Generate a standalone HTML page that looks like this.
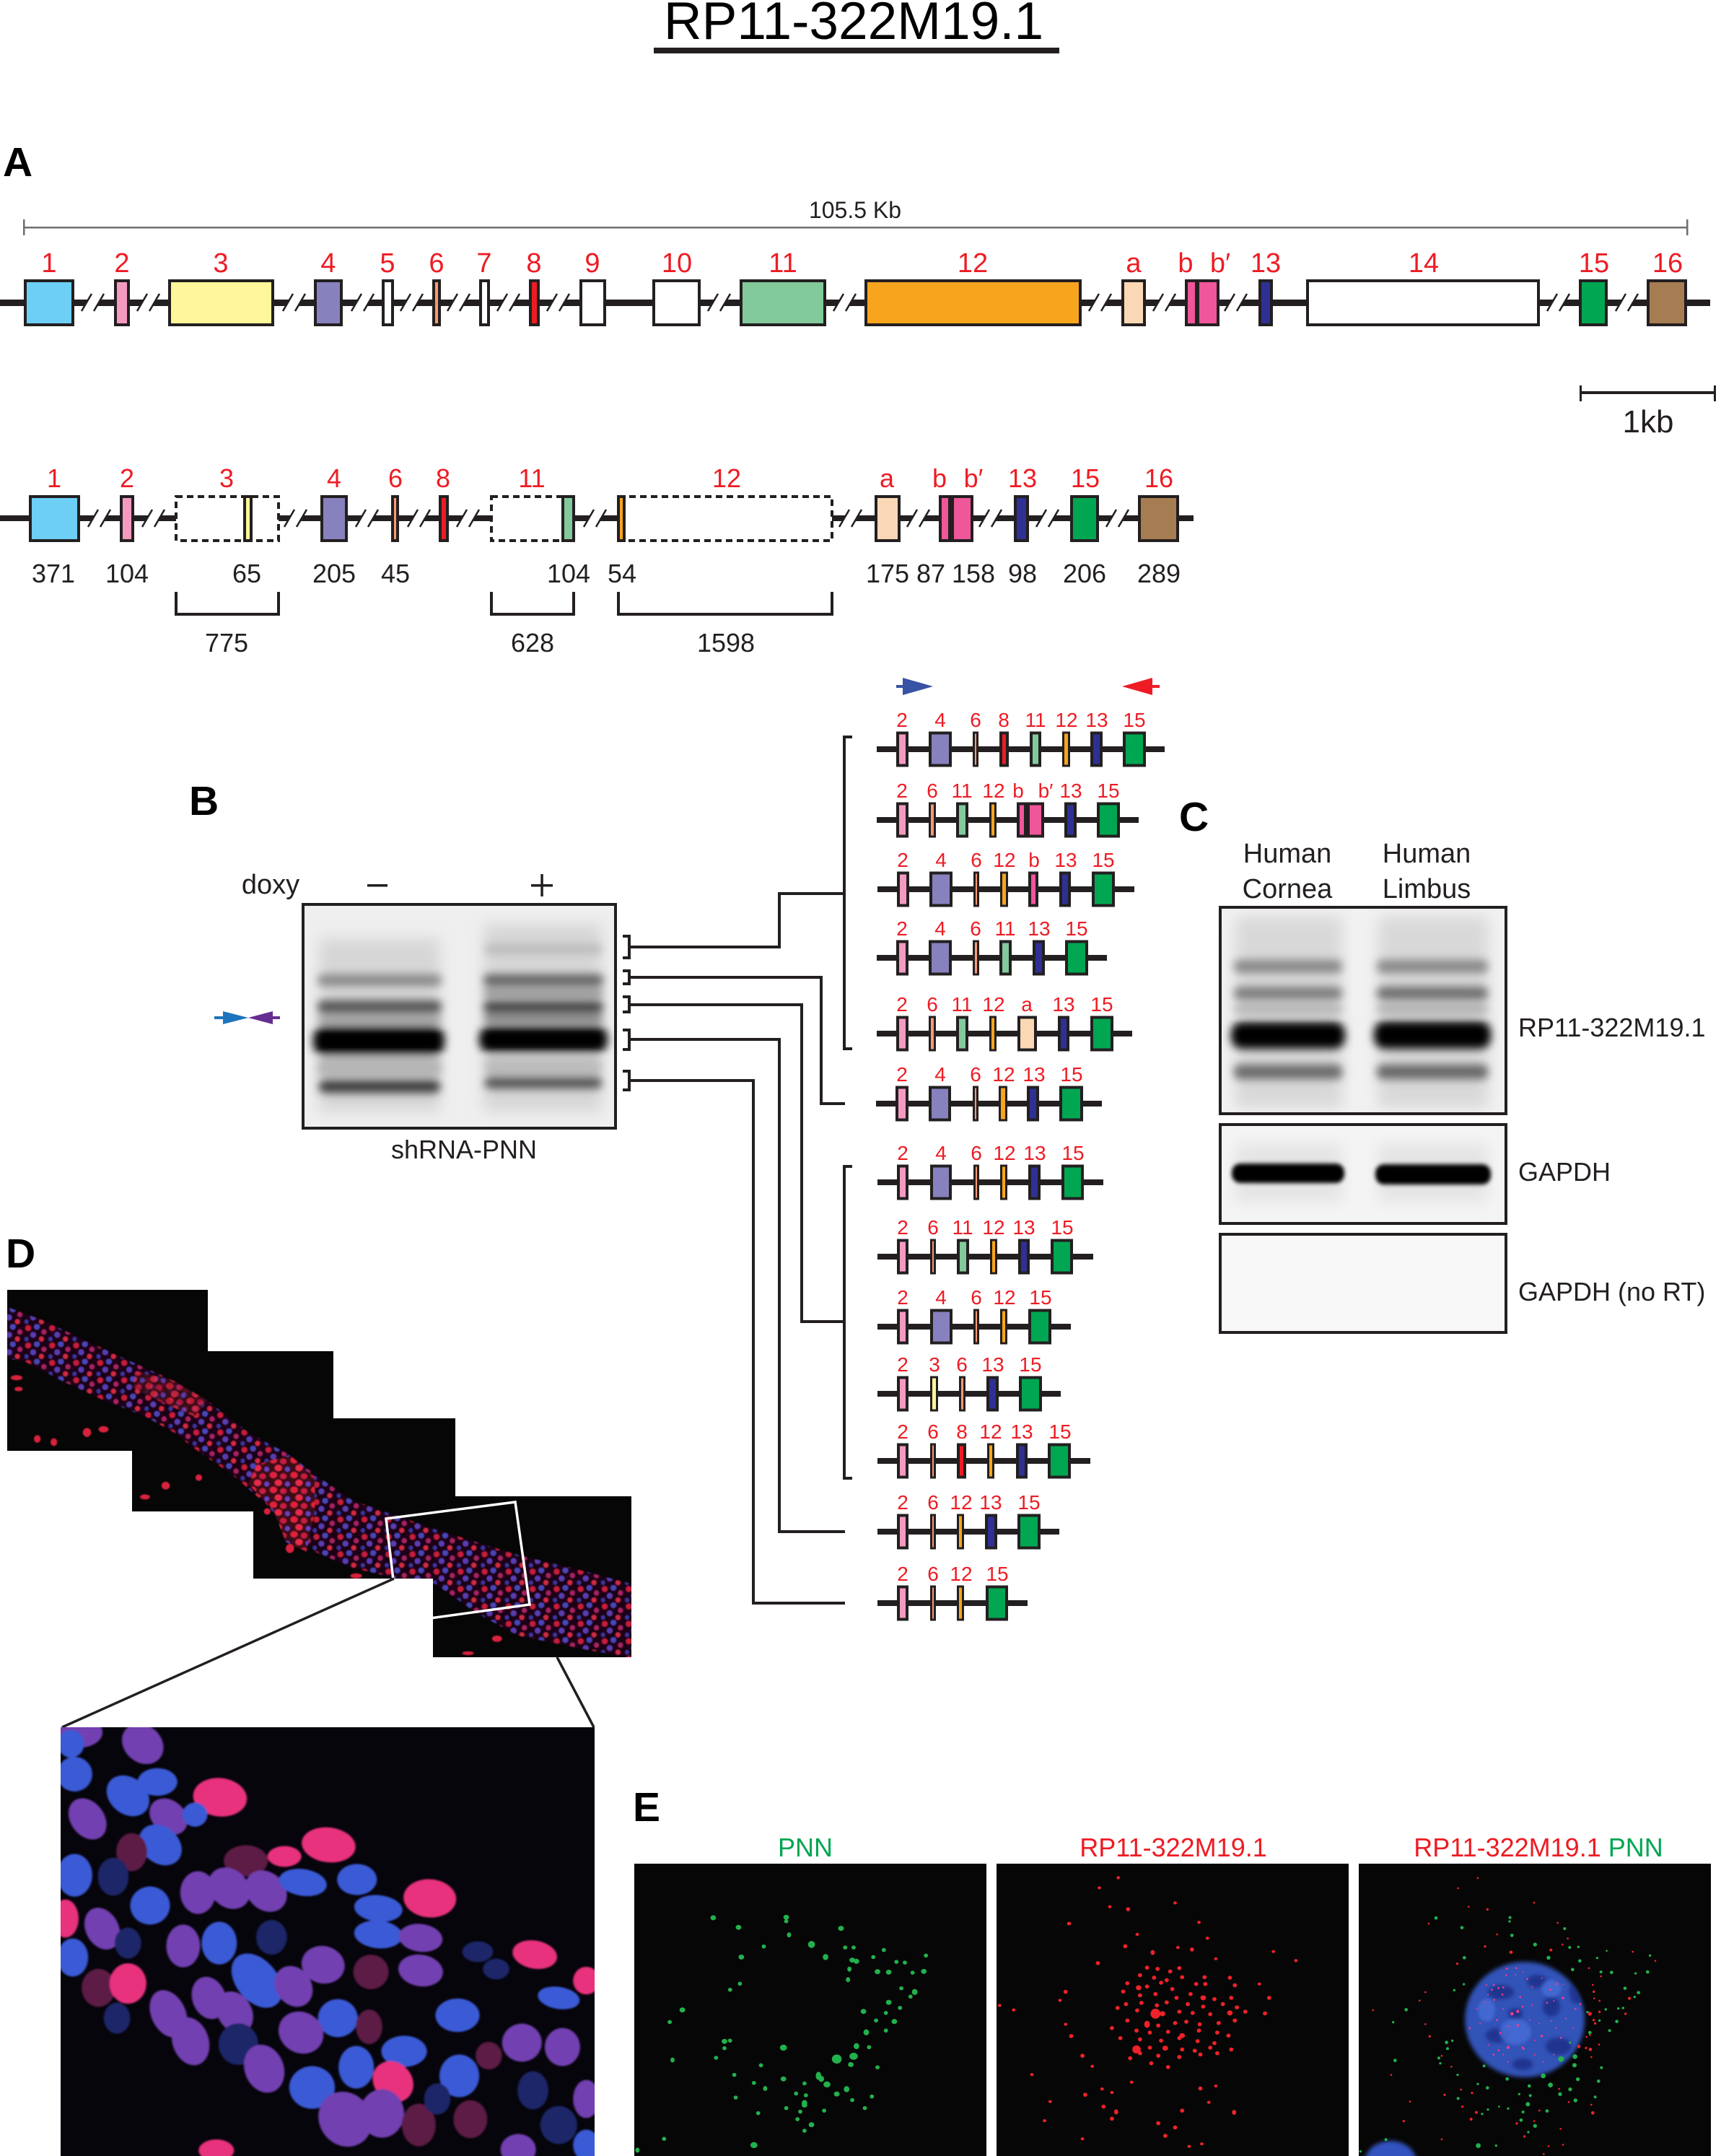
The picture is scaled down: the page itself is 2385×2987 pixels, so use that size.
<!DOCTYPE html>
<html><head><meta charset="utf-8">
<style>
html,body{margin:0;padding:0;background:#fff;}
body{width:2385px;height:2987px;overflow:hidden;}
svg{display:block;}
text{font-family:"Liberation Sans",Arial,sans-serif;}
.r{fill:#ed1c24;text-anchor:middle;}
.k{fill:#231f20;text-anchor:middle;}
.e{stroke:#231f20;stroke-width:4;}
.n{stroke:#231f20;stroke-width:3;}
.cn{fill:none;stroke:#231f20;stroke-width:4;}
.lbl{font-weight:bold;font-size:57px;fill:#000;}
.il{font-size:28px;fill:#ed1c24;text-anchor:middle;}
.gd{fill:#22b14c;}
.rd{fill:#ee2228;}
.pk{fill:#ff3a8c;}
.nB{fill:#3a5ad6;}
.nP{fill:#7240b0;}
.nR{fill:#e8307e;}
.nD{fill:#1a2668;}
.nQ{fill:#5c1a44;}
</style></head>
<body>
<svg width="2385" height="2987" viewBox="0 0 2385 2987" xmlns="http://www.w3.org/2000/svg">
<defs>
<g id="sl">
  <polygon points="0,13 14,-13 31,-13 17,13" fill="#fff"/>
  <line x1="0" y1="12" x2="14" y2="-12" stroke="#231f20" stroke-width="2.5"/>
  <line x1="17" y1="12" x2="31" y2="-12" stroke="#231f20" stroke-width="2.5"/>
</g>
<filter id="b3" x="-20%" y="-50%" width="140%" height="200%"><feGaussianBlur stdDeviation="3"/></filter>
<filter id="b5" x="-20%" y="-100%" width="140%" height="300%"><feGaussianBlur stdDeviation="6"/></filter>
<filter id="b10" x="-30%" y="-30%" width="160%" height="160%"><feGaussianBlur stdDeviation="10"/></filter>
<filter id="bn" x="-30%" y="-30%" width="160%" height="160%"><feGaussianBlur stdDeviation="2.5"/></filter>
<filter id="bt" x="-5%" y="-5%" width="110%" height="110%"><feGaussianBlur stdDeviation="1.5"/></filter>
<clipPath id="gB"><rect x="422" y="1255" width="429" height="306"/></clipPath>
<clipPath id="gC1"><rect x="1693" y="1259" width="392" height="282"/></clipPath>
<clipPath id="gC2"><rect x="1693" y="1560" width="392" height="133"/></clipPath>
<clipPath id="tiles">
  <rect x="10" y="1787" width="278" height="223"/>
  <rect x="183" y="1872" width="279" height="222"/>
  <rect x="351" y="1965" width="280" height="222"/>
  <rect x="600" y="2073" width="275" height="223"/>
</clipPath>
<clipPath id="inset"><rect x="84" y="2393" width="740" height="594"/></clipPath>
<clipPath id="p3"><rect x="1883" y="2582" width="488" height="405"/></clipPath>
<clipPath id="nuc"><ellipse cx="2113" cy="2798" rx="83" ry="80"/></clipPath>
<pattern id="tp" width="58" height="54" patternUnits="userSpaceOnUse">
  <rect width="58" height="54" fill="#1a0612"/>
  <ellipse cx="10" cy="12" rx="7" ry="9" fill="#c81e3c"/>
  <ellipse cx="31" cy="8" rx="7" ry="9" fill="#4c44b8"/>
  <ellipse cx="48" cy="24" rx="6" ry="8" fill="#a82464"/>
  <ellipse cx="22" cy="33" rx="7" ry="9" fill="#5a3cb0"/>
  <ellipse cx="42" cy="46" rx="6" ry="8" fill="#d22a44"/>
  <ellipse cx="6" cy="46" rx="5" ry="7" fill="#3a36a0"/>
</pattern>
<pattern id="tpr" width="50" height="46" patternUnits="userSpaceOnUse">
  <rect width="50" height="46" fill="#3a0a18"/>
  <ellipse cx="10" cy="10" rx="9" ry="10" fill="#e0203c"/>
  <ellipse cx="34" cy="14" rx="8" ry="9" fill="#c81a40"/>
  <ellipse cx="22" cy="34" rx="9" ry="10" fill="#e82a48"/>
  <ellipse cx="44" cy="38" rx="6" ry="8" fill="#6a40c0"/>
</pattern>
</defs>

<!-- Title -->
<text x="1183" y="54" font-size="73" text-anchor="middle" fill="#000">RP11-322M19.1</text>
<rect x="906" y="66" width="562" height="8" fill="#231f20"/>

<!-- A -->
<text class="lbl" x="4" y="244">A</text>
<text x="1185" y="302" font-size="32" class="k">105.5 Kb</text>
<rect x="33" y="314" width="2305" height="2.5" fill="#6d6e71"/>
<rect x="32" y="304" width="2.5" height="22" fill="#6d6e71"/>
<rect x="2337" y="304" width="2.5" height="22" fill="#6d6e71"/>

<!-- Row 1 -->
<rect x="0" y="415" width="2370" height="9" fill="#231f20"/>
<use href="#sl" x="113" y="419"/><use href="#sl" x="190" y="419"/><use href="#sl" x="392" y="419"/>
<use href="#sl" x="487" y="419"/><use href="#sl" x="555" y="419"/><use href="#sl" x="620" y="419"/>
<use href="#sl" x="689" y="419"/><use href="#sl" x="758" y="419"/><use href="#sl" x="981" y="419"/>
<use href="#sl" x="1155" y="419"/><use href="#sl" x="1509" y="419"/><use href="#sl" x="1598" y="419"/>
<use href="#sl" x="1697" y="419"/><use href="#sl" x="2144" y="419"/><use href="#sl" x="2239" y="419"/>
<g>
<rect class="e" x="35" y="389" width="66" height="61" fill="#6dcff6"/>
<rect class="e" x="160" y="389" width="18" height="61" fill="#f49ac1"/>
<rect class="e" x="235" y="389" width="143" height="61" fill="#fff799"/>
<rect class="e" x="437" y="389" width="36" height="61" fill="#8781bd"/>
<rect class="e" x="531" y="389" width="13" height="61" fill="#fff"/>
<rect class="e" x="601" y="389" width="8" height="61" fill="#f79a75"/>
<rect class="e" x="666" y="389" width="11" height="61" fill="#fff"/>
<rect class="e" x="735" y="389" width="11" height="61" fill="#ed1c24"/>
<rect class="e" x="805" y="389" width="33" height="61" fill="#fff"/>
<rect class="e" x="906" y="389" width="63" height="61" fill="#fff"/>
<rect class="e" x="1027" y="389" width="116" height="61" fill="#82ca9b"/>
<rect class="e" x="1200" y="389" width="297" height="61" fill="#f7a51d"/>
<rect class="e" x="1556" y="389" width="30" height="61" fill="#fbd8b5"/>
<rect class="e" x="1644" y="389" width="14" height="61" fill="#f0569a"/>
<rect class="e" x="1660" y="389" width="28" height="61" fill="#f0569a"/>
<rect class="e" x="1746" y="389" width="16" height="61" fill="#2e3192"/>
<rect class="e" x="1812" y="389" width="320" height="61" fill="#fff"/>
<rect class="e" x="2190" y="389" width="36" height="61" fill="#00a651"/>
<rect class="e" x="2284" y="389" width="52" height="61" fill="#a67c52"/>
</g>
<g font-size="38" class="r">
<text x="68" y="377" class="r">1</text><text x="169" y="377" class="r">2</text><text x="306" y="377" class="r">3</text>
<text x="455" y="377" class="r">4</text><text x="537" y="377" class="r">5</text><text x="605" y="377" class="r">6</text>
<text x="671" y="377" class="r">7</text><text x="740" y="377" class="r">8</text><text x="821" y="377" class="r">9</text>
<text x="938" y="377" class="r">10</text><text x="1085" y="377" class="r">11</text><text x="1348" y="377" class="r">12</text>
<text x="1571" y="377" class="r">a</text><text x="1643" y="377" class="r">b</text><text x="1691" y="377" class="r">b′</text>
<text x="1754" y="377" class="r">13</text><text x="1973" y="377" class="r">14</text><text x="2209" y="377" class="r">15</text>
<text x="2311" y="377" class="r">16</text>
</g>
<!-- 1kb -->
<rect x="2190" y="542" width="187" height="4" fill="#231f20"/>
<rect x="2189" y="534" width="3" height="22" fill="#231f20"/>
<rect x="2375" y="534" width="3" height="22" fill="#231f20"/>
<text x="2284" y="599" font-size="44" class="k">1kb</text>

<!-- Row 2 -->
<rect x="0" y="714" width="244" height="8" fill="#231f20"/>
<rect x="386" y="714" width="295" height="8" fill="#231f20"/>
<rect x="795" y="714" width="62" height="8" fill="#231f20"/>
<rect x="1153" y="714" width="501" height="8" fill="#231f20"/>
<use href="#sl" x="122" y="718"/><use href="#sl" x="197" y="718"/><use href="#sl" x="394" y="718"/>
<use href="#sl" x="493" y="718"/><use href="#sl" x="565" y="718"/><use href="#sl" x="633" y="718"/>
<use href="#sl" x="809" y="718"/><use href="#sl" x="1163" y="718"/><use href="#sl" x="1257" y="718"/>
<use href="#sl" x="1357" y="718"/><use href="#sl" x="1436" y="718"/><use href="#sl" x="1533" y="718"/>
<g fill="none" stroke="#231f20" stroke-width="4" stroke-dasharray="9 6">
<rect x="244" y="688" width="142" height="61"/>
<rect x="681" y="688" width="114" height="61"/>
<rect x="857" y="688" width="296" height="61"/>
</g>
<g>
<rect class="e" x="42" y="688" width="67" height="61" fill="#6dcff6"/>
<rect class="e" x="168" y="688" width="16" height="61" fill="#f49ac1"/>
<rect class="e" x="339" y="688" width="9" height="61" fill="#fff799"/>
<rect class="e" x="446" y="688" width="34" height="61" fill="#8781bd"/>
<rect class="e" x="544" y="688" width="7" height="61" fill="#f79a75"/>
<rect class="e" x="610" y="688" width="10" height="61" fill="#ed1c24"/>
<rect class="e" x="780" y="688" width="15" height="61" fill="#82ca9b"/>
<rect class="e" x="857" y="688" width="8" height="61" fill="#f7a51d"/>
<rect class="e" x="1214" y="688" width="32" height="61" fill="#fbd8b5"/>
<rect class="e" x="1303" y="688" width="13" height="61" fill="#f0569a"/>
<rect class="e" x="1320" y="688" width="27" height="61" fill="#f0569a"/>
<rect class="e" x="1407" y="688" width="17" height="61" fill="#2e3192"/>
<rect class="e" x="1485" y="688" width="36" height="61" fill="#00a651"/>
<rect class="e" x="1579" y="688" width="53" height="61" fill="#a67c52"/>
</g>
<g font-size="36">
<text x="75" y="675" class="r">1</text><text x="176" y="675" class="r">2</text><text x="314" y="675" class="r">3</text>
<text x="463" y="675" class="r">4</text><text x="548" y="675" class="r">6</text><text x="614" y="675" class="r">8</text>
<text x="737" y="675" class="r">11</text><text x="1007" y="675" class="r">12</text><text x="1229" y="675" class="r">a</text>
<text x="1302" y="675" class="r">b</text><text x="1349" y="675" class="r">b′</text><text x="1417" y="675" class="r">13</text>
<text x="1504" y="675" class="r">15</text><text x="1606" y="675" class="r">16</text>
<text x="74" y="807" class="k">371</text><text x="176" y="807" class="k">104</text><text x="342" y="807" class="k">65</text>
<text x="463" y="807" class="k">205</text><text x="548" y="807" class="k">45</text><text x="788" y="807" class="k">104</text>
<text x="862" y="807" class="k">54</text><text x="1230" y="807" class="k">175</text><text x="1290" y="807" class="k">87</text>
<text x="1349" y="807" class="k">158</text><text x="1417" y="807" class="k">98</text><text x="1503" y="807" class="k">206</text>
<text x="1606" y="807" class="k">289</text>
<text x="314" y="903" class="k">775</text><text x="738" y="903" class="k">628</text><text x="1006" y="903" class="k">1598</text>
</g>
<path class="cn" d="M244,820 V851 H386 V820"/>
<path class="cn" d="M681,820 V851 H795 V820"/>
<path class="cn" d="M857,820 V851 H1153 V820"/>

<!-- B -->
<text class="lbl" x="262" y="1129">B</text>
<text x="375" y="1238" font-size="38" class="k">doxy</text>
<rect x="509" y="1225" width="28" height="3.5" fill="#231f20"/>
<rect x="736" y="1225" width="30" height="3.5" fill="#231f20"/>
<rect x="749.3" y="1211" width="3.5" height="31" fill="#231f20"/>
<rect x="420" y="1253" width="433" height="310" fill="#efefef"/>
<g clip-path="url(#gB)">
  <rect x="442" y="1300" width="168" height="240" fill="#d2d2d2" filter="url(#b10)" opacity="0.85"/>
  <rect x="670" y="1280" width="164" height="260" fill="#d2d2d2" filter="url(#b10)" opacity="0.85"/>
  <g filter="url(#b5)">
  <rect x="440" y="1350" width="172" height="16" rx="8" fill="#888"/>
  <rect x="440" y="1386" width="172" height="18" rx="8" fill="#555"/>
  <rect x="440" y="1408" width="172" height="10" rx="5" fill="#999"/>
  <rect x="434" y="1422" width="182" height="40" rx="16" fill="#000"/>
  <rect x="440" y="1466" width="172" height="26" rx="10" fill="#b5b5b5"/>
  <rect x="442" y="1496" width="168" height="18" rx="8" fill="#3a3a3a"/>
  <rect x="672" y="1308" width="162" height="14" rx="6" fill="#bcbcbc"/>
  <rect x="670" y="1350" width="166" height="16" rx="7" fill="#606060"/>
  <rect x="670" y="1371" width="166" height="10" rx="5" fill="#8a8a8a"/>
  <rect x="670" y="1387" width="166" height="16" rx="7" fill="#404040"/>
  <rect x="670" y="1406" width="166" height="10" rx="5" fill="#777"/>
  <rect x="664" y="1422" width="178" height="36" rx="15" fill="#000"/>
  <rect x="672" y="1466" width="162" height="24" rx="10" fill="#bcbcbc"/>
  <rect x="672" y="1492" width="162" height="16" rx="7" fill="#505050"/>
  </g>
</g>
<rect x="420" y="1253" width="433" height="310" fill="none" stroke="#231f20" stroke-width="4"/>
<text x="643" y="1605" font-size="36" class="k">shRNA-PNN</text>
<rect x="297" y="1408" width="14" height="4" fill="#1c75bc"/>
<polygon points="309,1401 344,1410 309,1419" fill="#1c75bc"/>
<polygon points="344,1410 378,1401 378,1419" fill="#662d91"/>
<rect x="376" y="1408" width="12" height="4" fill="#662d91"/>
<g class="cn">
<path d="M863,1297 H872 V1327 H863"/>
<path d="M863,1345 H872 V1363 H863"/>
<path d="M863,1381 H872 V1402 H863"/>
<path d="M863,1427 H872 V1454 H863"/>
<path d="M863,1484 H872 V1510 H863"/>
<path d="M872,1312 H1080 V1238 H1170"/>
<path d="M872,1354 H1138 V1529 H1171"/>
<path d="M872,1392 H1111 V1831 H1170"/>
<path d="M872,1440 H1080 V2122 H1171"/>
<path d="M872,1497 H1044 V2221 H1171"/>
<path d="M1181,1021 H1170 V1453 H1181"/>
<path d="M1181,1616 H1170 V2048 H1181"/>
</g>

<!-- primer arrows -->
<rect x="1242" y="949" width="12" height="4" fill="#3953a4"/>
<polygon points="1251,939 1293,951 1251,963" fill="#3953a4"/>
<polygon points="1555,951 1597,939 1597,963" fill="#ed1c24"/>
<rect x="1595" y="949" width="12" height="4" fill="#ed1c24"/>

<!-- Isoforms -->
<g>
<rect x="1215" y="1034" width="399" height="8" fill="#231f20"/>
<rect class="e" x="1244" y="1015.5" width="13" height="45" fill="#f49ac1"/>
<rect class="e" x="1289" y="1015.5" width="28" height="45" fill="#8781bd"/>
<rect class="n" x="1349.5" y="1015" width="5" height="46" fill="#f79a75"/>
<rect class="e" x="1387" y="1015.5" width="9" height="45" fill="#ed1c24"/>
<rect class="e" x="1429" y="1015.5" width="12" height="45" fill="#82ca9b"/>
<rect class="n" x="1473.5" y="1015" width="8" height="46" fill="#f7a51d"/>
<rect class="e" x="1513" y="1015.5" width="13" height="45" fill="#2e3192"/>
<rect class="e" x="1558" y="1015.5" width="28" height="45" fill="#00a651"/>
<text class="il" x="1250" y="1007">2</text><text class="il" x="1303" y="1007">4</text><text class="il" x="1352" y="1007">6</text>
<text class="il" x="1391" y="1007">8</text><text class="il" x="1435" y="1007">11</text><text class="il" x="1478" y="1007">12</text>
<text class="il" x="1520" y="1007">13</text><text class="il" x="1572" y="1007">15</text>

<rect x="1215" y="1132" width="363" height="8" fill="#231f20"/>
<rect class="e" x="1244" y="1113.5" width="13" height="45" fill="#f49ac1"/>
<rect class="n" x="1288.5" y="1113" width="7" height="46" fill="#f79a75"/>
<rect class="e" x="1327" y="1113.5" width="13" height="45" fill="#82ca9b"/>
<rect class="n" x="1372.5" y="1113" width="7" height="46" fill="#f7a51d"/>
<rect class="e" x="1411" y="1113.5" width="10" height="45" fill="#f0569a"/>
<rect class="e" x="1425" y="1113.5" width="20" height="45" fill="#f0569a"/>
<rect class="e" x="1477" y="1113.5" width="13" height="45" fill="#2e3192"/>
<rect class="e" x="1522" y="1113.5" width="28" height="45" fill="#00a651"/>
<text class="il" x="1250" y="1105">2</text><text class="il" x="1292" y="1105">6</text><text class="il" x="1333" y="1105">11</text>
<text class="il" x="1377" y="1105">12</text><text class="il" x="1411" y="1105">b</text><text class="il" x="1449" y="1105">b′</text>
<text class="il" x="1484" y="1105">13</text><text class="il" x="1536" y="1105">15</text>

<rect x="1216" y="1228" width="356" height="8" fill="#231f20"/>
<rect class="e" x="1245" y="1209.5" width="13" height="45" fill="#f49ac1"/>
<rect class="e" x="1290" y="1209.5" width="28" height="45" fill="#8781bd"/>
<rect class="n" x="1350.5" y="1209" width="5" height="46" fill="#f79a75"/>
<rect class="n" x="1387.5" y="1209" width="8" height="46" fill="#f7a51d"/>
<rect class="e" x="1427" y="1209.5" width="10" height="45" fill="#f0569a"/>
<rect class="e" x="1470" y="1209.5" width="12" height="45" fill="#2e3192"/>
<rect class="e" x="1515" y="1209.5" width="28" height="45" fill="#00a651"/>
<text class="il" x="1251" y="1201">2</text><text class="il" x="1304" y="1201">4</text><text class="il" x="1353" y="1201">6</text>
<text class="il" x="1392" y="1201">12</text><text class="il" x="1433" y="1201">b</text><text class="il" x="1477" y="1201">13</text>
<text class="il" x="1529" y="1201">15</text>

<rect x="1215" y="1323" width="319" height="8" fill="#231f20"/>
<rect class="e" x="1244" y="1304.5" width="13" height="45" fill="#f49ac1"/>
<rect class="e" x="1289" y="1304.5" width="28" height="45" fill="#8781bd"/>
<rect class="n" x="1349.5" y="1304" width="6" height="46" fill="#f79a75"/>
<rect class="e" x="1387" y="1304.5" width="13" height="45" fill="#82ca9b"/>
<rect class="e" x="1433" y="1304.5" width="13" height="45" fill="#2e3192"/>
<rect class="e" x="1478" y="1304.5" width="28" height="45" fill="#00a651"/>
<text class="il" x="1250" y="1296">2</text><text class="il" x="1303" y="1296">4</text><text class="il" x="1352" y="1296">6</text>
<text class="il" x="1393" y="1296">11</text><text class="il" x="1440" y="1296">13</text><text class="il" x="1492" y="1296">15</text>

<rect x="1215" y="1428" width="354" height="8" fill="#231f20"/>
<rect class="e" x="1244" y="1409.5" width="13" height="45" fill="#f49ac1"/>
<rect class="n" x="1288.5" y="1409" width="7" height="46" fill="#f79a75"/>
<rect class="e" x="1327" y="1409.5" width="13" height="45" fill="#82ca9b"/>
<rect class="n" x="1372.5" y="1409" width="7" height="46" fill="#f7a51d"/>
<rect class="e" x="1412" y="1409.5" width="23" height="45" fill="#fbd8b5"/>
<rect class="e" x="1468" y="1409.5" width="12" height="45" fill="#2e3192"/>
<rect class="e" x="1513" y="1409.5" width="28" height="45" fill="#00a651"/>
<text class="il" x="1250" y="1401">2</text><text class="il" x="1292" y="1401">6</text><text class="il" x="1333" y="1401">11</text>
<text class="il" x="1377" y="1401">12</text><text class="il" x="1423" y="1401">a</text><text class="il" x="1474" y="1401">13</text>
<text class="il" x="1527" y="1401">15</text>

<rect x="1214" y="1525" width="313" height="8" fill="#231f20"/>
<rect class="e" x="1243" y="1506.5" width="14" height="45" fill="#f49ac1"/>
<rect class="e" x="1289" y="1506.5" width="27" height="45" fill="#8781bd"/>
<rect class="n" x="1349.5" y="1506" width="5" height="46" fill="#f79a75"/>
<rect class="n" x="1385.5" y="1506" width="9" height="46" fill="#f7a51d"/>
<rect class="e" x="1425" y="1506.5" width="13" height="45" fill="#2e3192"/>
<rect class="e" x="1470" y="1506.5" width="29" height="45" fill="#00a651"/>
<text class="il" x="1250" y="1498">2</text><text class="il" x="1303" y="1498">4</text><text class="il" x="1352" y="1498">6</text>
<text class="il" x="1391" y="1498">12</text><text class="il" x="1433" y="1498">13</text><text class="il" x="1485" y="1498">15</text>

<rect x="1216" y="1634" width="313" height="8" fill="#231f20"/>
<rect class="e" x="1245" y="1615.5" width="12" height="45" fill="#f49ac1"/>
<rect class="e" x="1291" y="1615.5" width="26" height="45" fill="#8781bd"/>
<rect class="n" x="1350.5" y="1615" width="5" height="46" fill="#f79a75"/>
<rect class="n" x="1387.5" y="1615" width="7" height="46" fill="#f7a51d"/>
<rect class="e" x="1427" y="1615.5" width="13" height="45" fill="#2e3192"/>
<rect class="e" x="1473" y="1615.5" width="27" height="45" fill="#00a651"/>
<text class="il" x="1251" y="1607">2</text><text class="il" x="1304" y="1607">4</text><text class="il" x="1353" y="1607">6</text>
<text class="il" x="1392" y="1607">12</text><text class="il" x="1434" y="1607">13</text><text class="il" x="1487" y="1607">15</text>

<rect x="1216" y="1737" width="299" height="8" fill="#231f20"/>
<rect class="e" x="1245" y="1718.5" width="12" height="45" fill="#f49ac1"/>
<rect class="n" x="1290.5" y="1718" width="5" height="46" fill="#f79a75"/>
<rect class="e" x="1328" y="1718.5" width="13" height="45" fill="#82ca9b"/>
<rect class="n" x="1373.5" y="1718" width="7" height="46" fill="#f7a51d"/>
<rect class="e" x="1413" y="1718.5" width="12" height="45" fill="#2e3192"/>
<rect class="e" x="1458" y="1718.5" width="27" height="45" fill="#00a651"/>
<text class="il" x="1251" y="1710">2</text><text class="il" x="1293" y="1710">6</text><text class="il" x="1334" y="1710">11</text>
<text class="il" x="1377" y="1710">12</text><text class="il" x="1419" y="1710">13</text><text class="il" x="1472" y="1710">15</text>

<rect x="1216" y="1834" width="268" height="8" fill="#231f20"/>
<rect class="e" x="1245" y="1815.5" width="12" height="45" fill="#f49ac1"/>
<rect class="e" x="1291" y="1815.5" width="27" height="45" fill="#8781bd"/>
<rect class="n" x="1350.5" y="1815" width="5" height="46" fill="#f79a75"/>
<rect class="n" x="1387.5" y="1815" width="7" height="46" fill="#f7a51d"/>
<rect class="e" x="1427" y="1815.5" width="28" height="45" fill="#00a651"/>
<text class="il" x="1251" y="1807">2</text><text class="il" x="1304" y="1807">4</text><text class="il" x="1353" y="1807">6</text>
<text class="il" x="1392" y="1807">12</text><text class="il" x="1442" y="1807">15</text>

<rect x="1216" y="1927" width="254" height="8" fill="#231f20"/>
<rect class="e" x="1245" y="1908.5" width="12" height="45" fill="#f49ac1"/>
<rect class="n" x="1290.5" y="1908" width="8" height="46" fill="#fff799"/>
<rect class="n" x="1330.5" y="1908" width="6" height="46" fill="#f79a75"/>
<rect class="e" x="1369" y="1908.5" width="13" height="45" fill="#2e3192"/>
<rect class="e" x="1414" y="1908.5" width="28" height="45" fill="#00a651"/>
<text class="il" x="1251" y="1900">2</text><text class="il" x="1295" y="1900">3</text><text class="il" x="1333" y="1900">6</text>
<text class="il" x="1376" y="1900">13</text><text class="il" x="1428" y="1900">15</text>

<rect x="1216" y="2020" width="295" height="8" fill="#231f20"/>
<rect class="e" x="1245" y="2001.5" width="12" height="45" fill="#f49ac1"/>
<rect class="n" x="1290.5" y="2001" width="5" height="46" fill="#f79a75"/>
<rect class="e" x="1328" y="2001.5" width="9" height="45" fill="#ed1c24"/>
<rect class="n" x="1369.5" y="2001" width="7" height="46" fill="#f7a51d"/>
<rect class="e" x="1410" y="2001.5" width="12" height="45" fill="#2e3192"/>
<rect class="e" x="1454" y="2001.5" width="28" height="45" fill="#00a651"/>
<text class="il" x="1251" y="1993">2</text><text class="il" x="1293" y="1993">6</text><text class="il" x="1333" y="1993">8</text>
<text class="il" x="1373" y="1993">12</text><text class="il" x="1416" y="1993">13</text><text class="il" x="1469" y="1993">15</text>

<rect x="1216" y="2118" width="252" height="8" fill="#231f20"/>
<rect class="e" x="1245" y="2099.5" width="12" height="45" fill="#f49ac1"/>
<rect class="n" x="1290.5" y="2099" width="5" height="46" fill="#f79a75"/>
<rect class="n" x="1327.5" y="2099" width="7" height="46" fill="#f7a51d"/>
<rect class="e" x="1367" y="2099.5" width="13" height="45" fill="#2e3192"/>
<rect class="e" x="1412" y="2099.5" width="28" height="45" fill="#00a651"/>
<text class="il" x="1251" y="2091">2</text><text class="il" x="1293" y="2091">6</text><text class="il" x="1332" y="2091">12</text>
<text class="il" x="1373" y="2091">13</text><text class="il" x="1426" y="2091">15</text>

<rect x="1216" y="2217" width="208" height="8" fill="#231f20"/>
<rect class="e" x="1245" y="2198.5" width="12" height="45" fill="#f49ac1"/>
<rect class="n" x="1290.5" y="2198" width="5" height="46" fill="#f79a75"/>
<rect class="n" x="1327.5" y="2198" width="7" height="46" fill="#f7a51d"/>
<rect class="e" x="1368" y="2198.5" width="27" height="45" fill="#00a651"/>
<text class="il" x="1251" y="2190">2</text><text class="il" x="1293" y="2190">6</text><text class="il" x="1332" y="2190">12</text>
<text class="il" x="1382" y="2190">15</text>
</g>

<!-- C -->
<text class="lbl" x="1634" y="1151">C</text>
<g font-size="38">
<text x="1784" y="1195" class="k">Human</text><text x="1784" y="1244" class="k">Cornea</text>
<text x="1977" y="1195" class="k">Human</text><text x="1977" y="1244" class="k">Limbus</text>
</g>
<g font-size="36" fill="#231f20">
<text x="2104" y="1436">RP11-322M19.1</text>
<text x="2104" y="1636">GAPDH</text>
<text x="2104" y="1802">GAPDH (no RT)</text>
</g>
<rect x="1691" y="1257" width="396" height="286" fill="#f1f1f1"/>
<g clip-path="url(#gC1)">
  <rect x="1712" y="1270" width="148" height="265" fill="#d4d4d4" filter="url(#b10)" opacity="0.85"/>
  <rect x="1910" y="1270" width="152" height="265" fill="#d4d4d4" filter="url(#b10)" opacity="0.85"/>
  <g filter="url(#b5)">
  <rect x="1710" y="1330" width="150" height="18" rx="8" fill="#888"/>
  <rect x="1710" y="1367" width="150" height="18" rx="8" fill="#7e7e7e"/>
  <rect x="1710" y="1393" width="150" height="10" rx="5" fill="#aaa"/>
  <rect x="1706" y="1416" width="158" height="37" rx="15" fill="#000"/>
  <rect x="1710" y="1475" width="150" height="20" rx="8" fill="#6a6a6a"/>
  <rect x="1908" y="1330" width="154" height="18" rx="8" fill="#888"/>
  <rect x="1908" y="1367" width="154" height="18" rx="8" fill="#6e6e6e"/>
  <rect x="1908" y="1393" width="154" height="10" rx="5" fill="#a5a5a5"/>
  <rect x="1904" y="1415" width="162" height="38" rx="15" fill="#000"/>
  <rect x="1908" y="1475" width="154" height="20" rx="8" fill="#666"/>
  </g>
</g>
<rect x="1691" y="1257" width="396" height="286" fill="none" stroke="#231f20" stroke-width="4"/>
<rect x="1691" y="1558" width="396" height="137" fill="#f4f4f4"/>
<g clip-path="url(#gC2)">
  <rect x="1712" y="1585" width="148" height="80" fill="#dedede" filter="url(#b10)" opacity="0.7"/>
  <rect x="1910" y="1585" width="152" height="80" fill="#dedede" filter="url(#b10)" opacity="0.7"/>
  <g filter="url(#b3)">
  <rect x="1707" y="1612" width="156" height="27" rx="12" fill="#000"/>
  <rect x="1906" y="1613" width="160" height="28" rx="12" fill="#000"/>
  </g>
</g>
<rect x="1691" y="1558" width="396" height="137" fill="none" stroke="#231f20" stroke-width="4"/>
<rect x="1691" y="1710" width="396" height="136" fill="#f8f8f8" stroke="#231f20" stroke-width="4"/>

<!-- D -->
<text class="lbl" x="8" y="1756">D</text>
<g fill="#060606">
<rect x="10" y="1787" width="278" height="223"/>
<rect x="183" y="1872" width="279" height="222"/>
<rect x="351" y="1965" width="280" height="222"/>
<rect x="600" y="2073" width="275" height="223"/>
</g>
<g clip-path="url(#tiles)">
 <g transform="translate(0,1690) scale(0.574,0.4464)" filter="url(#bt)">
  <polygon fill="url(#tp)" points="17,270 100,310 200,370 300,430 420,500 500,560 600,660 700,730 760,790 850,870 950,915 1050,960 1150,1000 1250,1040 1380,1080 1525,1130 1525,1360 1400,1330 1250,1290 1150,1220 1050,1130 950,1110 850,1080 760,1030 700,960 640,880 560,790 480,720 420,660 350,610 250,560 150,500 60,440 17,430"/>
  <polygon fill="url(#tpr)" points="620,760 700,730 760,800 760,900 740,1030 690,1000 660,900 600,820"/>
  <polygon fill="url(#tpr)" opacity="0.8" points="330,470 420,500 500,560 470,610 380,560 320,520"/>
  <g fill="#d8203e">
   <ellipse cx="40" cy="490" rx="14" ry="8"/><ellipse cx="45" cy="525" rx="10" ry="7"/>
   <ellipse cx="250" cy="650" rx="12" ry="10"/><ellipse cx="130" cy="690" rx="8" ry="12"/>
   <ellipse cx="90" cy="680" rx="8" ry="12"/><ellipse cx="350" cy="860" rx="12" ry="8"/>
   <ellipse cx="400" cy="825" rx="10" ry="12"/><ellipse cx="480" cy="800" rx="8" ry="10"/>
   <ellipse cx="860" cy="1105" rx="14" ry="8"/><ellipse cx="1200" cy="1300" rx="12" ry="10"/>
   <ellipse cx="1130" cy="1345" rx="14" ry="6"/><ellipse cx="700" cy="1020" rx="10" ry="14"/>
   <ellipse cx="645" cy="905" rx="8" ry="10"/><ellipse cx="210" cy="660" rx="10" ry="14"/>
  </g>
 </g>
</g>
<polygon points="535,2104 714,2081 734,2223 552,2248" fill="none" stroke="#fff" stroke-width="3.5"/>
<line x1="546" y1="2187" x2="86" y2="2393" stroke="#231f20" stroke-width="3.5"/>
<line x1="772" y1="2296" x2="823" y2="2393" stroke="#231f20" stroke-width="3.5"/>

<!-- Inset -->
<rect x="84" y="2393" width="740" height="594" fill="#07050c"/>
<g clip-path="url(#inset)">
 <g transform="translate(60,2360) scale(0.5102,0.4)" filter="url(#bn)">
  <ellipse class="nP" cx="95" cy="100" rx="66" ry="54"/>
  <ellipse class="nP" cx="270" cy="140" rx="54" ry="72" transform="rotate(-20 270 140)"/>
  <ellipse class="nB" cx="75" cy="140" rx="36" ry="48"/>
  <ellipse class="nB" cx="85" cy="245" rx="48" ry="60"/>
  <ellipse class="nB" cx="230" cy="320" rx="54" ry="74" transform="rotate(-25 230 320)"/>
  <ellipse class="nB" cx="310" cy="272" rx="54" ry="48"/>
  <ellipse class="nR" cx="480" cy="325" rx="74" ry="66" transform="rotate(20 480 325)"/>
  <ellipse class="nP" cx="120" cy="400" rx="48" ry="74" transform="rotate(-20 120 400)"/>
  <ellipse class="nP" cx="340" cy="392" rx="48" ry="66" transform="rotate(-25 340 392)"/>
  <ellipse class="nB" cx="412" cy="385" rx="34" ry="42"/>
  <ellipse class="nB" cx="318" cy="490" rx="54" ry="74" transform="rotate(-25 318 490)"/>
  <ellipse class="nQ" cx="240" cy="515" rx="42" ry="66"/>
  <ellipse class="nQ" cx="550" cy="545" rx="60" ry="54"/>
  <ellipse class="nR" cx="655" cy="530" rx="46" ry="36"/>
  <ellipse class="nR" cx="775" cy="490" rx="74" ry="60" transform="rotate(15 775 490)"/>
  <ellipse class="nB" cx="85" cy="595" rx="48" ry="74"/>
  <ellipse class="nD" cx="190" cy="600" rx="42" ry="66"/>
  <ellipse class="nP" cx="420" cy="655" rx="48" ry="74"/>
  <ellipse class="nP" cx="505" cy="640" rx="54" ry="74" transform="rotate(-20 505 640)"/>
  <ellipse class="nP" cx="605" cy="650" rx="54" ry="74" transform="rotate(-20 605 650)"/>
  <ellipse class="nB" cx="705" cy="620" rx="66" ry="46" transform="rotate(15 705 620)"/>
  <ellipse class="nB" cx="852" cy="610" rx="54" ry="54"/>
  <ellipse class="nR" cx="1050" cy="675" rx="72" ry="66" transform="rotate(15 1050 675)"/>
  <ellipse class="nB" cx="910" cy="710" rx="66" ry="46" transform="rotate(10 910 710)"/>
  <ellipse class="nR" cx="60" cy="745" rx="36" ry="66"/>
  <ellipse class="nP" cx="160" cy="780" rx="46" ry="74" transform="rotate(-15 160 780)"/>
  <ellipse class="nB" cx="290" cy="700" rx="54" ry="66"/>
  <ellipse class="nD" cx="230" cy="830" rx="36" ry="54"/>
  <ellipse class="nP" cx="380" cy="840" rx="46" ry="74"/>
  <ellipse class="nB" cx="478" cy="830" rx="48" ry="74"/>
  <ellipse class="nD" cx="620" cy="810" rx="42" ry="60"/>
  <ellipse class="nB" cx="910" cy="800" rx="66" ry="48" transform="rotate(10 910 800)"/>
  <ellipse class="nP" cx="1025" cy="812" rx="60" ry="48" transform="rotate(15 1025 812)"/>
  <ellipse class="nD" cx="1180" cy="860" rx="42" ry="36"/>
  <ellipse class="nR" cx="1335" cy="870" rx="62" ry="48" transform="rotate(20 1335 870)"/>
  <ellipse class="nB" cx="80" cy="880" rx="42" ry="66"/>
  <ellipse class="nP" cx="760" cy="905" rx="58" ry="66" transform="rotate(-15 760 905)"/>
  <ellipse class="nQ" cx="890" cy="930" rx="48" ry="60"/>
  <ellipse class="nP" cx="1025" cy="925" rx="62" ry="54" transform="rotate(25 1025 925)"/>
  <ellipse class="nB" cx="580" cy="960" rx="60" ry="100" transform="rotate(-25 580 960)"/>
  <ellipse class="nP" cx="680" cy="980" rx="50" ry="72" transform="rotate(-15 680 980)"/>
  <ellipse class="nQ" cx="150" cy="985" rx="46" ry="66"/>
  <ellipse class="nR" cx="230" cy="970" rx="50" ry="70"/>
  <ellipse class="nP" cx="450" cy="1020" rx="46" ry="74" transform="rotate(-10 450 1020)"/>
  <ellipse class="nP" cx="340" cy="1075" rx="48" ry="84" transform="rotate(-15 340 1075)"/>
  <ellipse class="nP" cx="520" cy="1070" rx="48" ry="74" transform="rotate(-15 520 1070)"/>
  <ellipse class="nB" cx="800" cy="1090" rx="54" ry="66"/>
  <ellipse class="nQ" cx="885" cy="1120" rx="36" ry="60"/>
  <ellipse class="nB" cx="1125" cy="1080" rx="60" ry="58"/>
  <ellipse class="nB" cx="1400" cy="1020" rx="58" ry="38" transform="rotate(15 1400 1020)"/>
  <ellipse class="nR" cx="1475" cy="960" rx="36" ry="48"/>
  <ellipse class="nP" cx="400" cy="1170" rx="50" ry="84" transform="rotate(-10 400 1170)"/>
  <ellipse class="nD" cx="530" cy="1180" rx="54" ry="72"/>
  <ellipse class="nP" cx="700" cy="1140" rx="60" ry="74" transform="rotate(-15 700 1140)"/>
  <ellipse class="nB" cx="980" cy="1205" rx="62" ry="54"/>
  <ellipse class="nQ" cx="1210" cy="1220" rx="36" ry="48"/>
  <ellipse class="nP" cx="1300" cy="1175" rx="54" ry="66"/>
  <ellipse class="nP" cx="1410" cy="1190" rx="48" ry="66"/>
  <ellipse class="nP" cx="600" cy="1265" rx="54" ry="84" transform="rotate(-10 600 1265)"/>
  <ellipse class="nB" cx="850" cy="1260" rx="48" ry="74"/>
  <ellipse class="nR" cx="950" cy="1310" rx="54" ry="72" transform="rotate(-15 950 1310)"/>
  <ellipse class="nB" cx="1130" cy="1290" rx="54" ry="74"/>
  <ellipse class="nB" cx="730" cy="1330" rx="62" ry="74"/>
  <ellipse class="nD" cx="1330" cy="1340" rx="42" ry="66"/>
  <ellipse class="nP" cx="1475" cy="1370" rx="36" ry="66"/>
  <ellipse class="nP" cx="820" cy="1440" rx="72" ry="96" transform="rotate(-10 820 1440)"/>
  <ellipse class="nP" cx="920" cy="1420" rx="60" ry="84"/>
  <ellipse class="nQ" cx="1020" cy="1460" rx="46" ry="74"/>
  <ellipse class="nQ" cx="1160" cy="1440" rx="46" ry="66"/>
  <ellipse class="nD" cx="1400" cy="1460" rx="50" ry="66"/>
  <ellipse class="nR" cx="470" cy="1548" rx="48" ry="38"/>
  <ellipse class="nP" cx="1290" cy="1545" rx="48" ry="54"/>
  <ellipse class="nB" cx="1475" cy="1530" rx="36" ry="54"/>
  <ellipse class="nD" cx="1230" cy="920" rx="36" ry="36"/>
  <ellipse class="nD" cx="1070" cy="1370" rx="36" ry="54"/>
  <ellipse class="nD" cx="200" cy="1090" rx="36" ry="54"/>
 </g>
</g>

<!-- E -->
<text class="lbl" x="877" y="2523">E</text>
<g font-size="36" text-anchor="middle">
<text x="1116" y="2572" fill="#00a651">PNN</text>
<text x="1626" y="2572" fill="#ed1c24">RP11-322M19.1</text>
<text x="2132" y="2572"><tspan fill="#ed1c24">RP11-322M19.1</tspan><tspan fill="#00a651"> PNN</tspan></text>
</g>
<g fill="#060606">
<rect x="879" y="2582" width="488" height="405"/>
<rect x="1381" y="2582" width="488" height="405"/>
<rect x="1883" y="2582" width="488" height="405"/>
</g>
<!-- panel 1 green -->
<g transform="translate(860,2440) scale(0.9728,0.3488)" class="gd">
<ellipse cx="132" cy="622" rx="4" ry="10"/><ellipse cx="236" cy="620" rx="4" ry="10"/><ellipse cx="236" cy="636" rx="3" ry="8"/>
<ellipse cx="168" cy="660" rx="4" ry="10"/><ellipse cx="314" cy="664" rx="4" ry="10"/><ellipse cx="240" cy="690" rx="3" ry="10"/>
<ellipse cx="272" cy="728" rx="5" ry="14"/><ellipse cx="204" cy="736" rx="3" ry="8"/><ellipse cx="320" cy="740" rx="3" ry="8"/>
<ellipse cx="332" cy="740" rx="3" ry="8"/><ellipse cx="172" cy="778" rx="4" ry="10"/><ellipse cx="292" cy="778" rx="4" ry="12"/>
<ellipse cx="330" cy="790" rx="4" ry="10"/><ellipse cx="336" cy="795" rx="4" ry="10"/><ellipse cx="360" cy="778" rx="3" ry="8"/>
<ellipse cx="375" cy="750" rx="3" ry="8"/><ellipse cx="435" cy="772" rx="3" ry="8"/><ellipse cx="393" cy="797" rx="3" ry="8"/>
<ellipse cx="405" cy="800" rx="3" ry="8"/><ellipse cx="326" cy="826" rx="3" ry="10"/><ellipse cx="366" cy="836" rx="4" ry="10"/>
<ellipse cx="382" cy="838" rx="4" ry="10"/><ellipse cx="416" cy="840" rx="3" ry="8"/><ellipse cx="432" cy="835" rx="4" ry="10"/>
<ellipse cx="324" cy="868" rx="3" ry="10"/><ellipse cx="170" cy="884" rx="3" ry="8"/><ellipse cx="400" cy="902" rx="3" ry="8"/>
<ellipse cx="419" cy="917" rx="4" ry="12"/><ellipse cx="413" cy="935" rx="3" ry="8"/><ellipse cx="156" cy="908" rx="3" ry="8"/>
<ellipse cx="382" cy="958" rx="4" ry="10"/><ellipse cx="378" cy="1000" rx="3" ry="8"/><ellipse cx="398" cy="980" rx="3" ry="8"/>
<ellipse cx="88" cy="988" rx="4" ry="10"/><ellipse cx="346" cy="994" rx="4" ry="10"/><ellipse cx="70" cy="1036" rx="3" ry="8"/>
<ellipse cx="364" cy="1030" rx="3" ry="8"/><ellipse cx="390" cy="1034" rx="4" ry="10"/><ellipse cx="350" cy="1077" rx="4" ry="12"/>
<ellipse cx="378" cy="1070" rx="3" ry="8"/><ellipse cx="148" cy="1113" rx="4" ry="10"/><ellipse cx="156" cy="1110" rx="3" ry="8"/>
<ellipse cx="148" cy="1140" rx="3" ry="8"/><ellipse cx="232" cy="1138" rx="5" ry="12"/><ellipse cx="336" cy="1132" rx="4" ry="12"/>
<ellipse cx="354" cy="1136" rx="3" ry="8"/><ellipse cx="74" cy="1187" rx="3" ry="10"/><ellipse cx="136" cy="1178" rx="3" ry="8"/>
<ellipse cx="308" cy="1183" rx="7" ry="18"/><ellipse cx="332" cy="1172" rx="6" ry="14"/><ellipse cx="328" cy="1205" rx="4" ry="10"/>
<ellipse cx="200" cy="1208" rx="3" ry="8"/><ellipse cx="366" cy="1216" rx="3" ry="8"/><ellipse cx="282" cy="1250" rx="4" ry="16"/>
<ellipse cx="286" cy="1262" rx="4" ry="12"/><ellipse cx="162" cy="1246" rx="3" ry="8"/><ellipse cx="232" cy="1262" rx="4" ry="10"/>
<ellipse cx="262" cy="1280" rx="3" ry="8"/><ellipse cx="294" cy="1284" rx="5" ry="12"/><ellipse cx="190" cy="1278" rx="3" ry="8"/>
<ellipse cx="206" cy="1300" rx="3" ry="10"/><ellipse cx="322" cy="1303" rx="4" ry="12"/><ellipse cx="250" cy="1320" rx="3" ry="8"/>
<ellipse cx="264" cy="1327" rx="3" ry="8"/><ellipse cx="308" cy="1322" rx="4" ry="10"/><ellipse cx="358" cy="1332" rx="3" ry="8"/>
<ellipse cx="164" cy="1336" rx="3" ry="8"/><ellipse cx="330" cy="1346" rx="3" ry="8"/><ellipse cx="262" cy="1358" rx="4" ry="12"/>
<ellipse cx="262" cy="1366" rx="4" ry="10"/><ellipse cx="236" cy="1378" rx="3" ry="8"/><ellipse cx="290" cy="1388" rx="3" ry="8"/>
<ellipse cx="256" cy="1392" rx="3" ry="8"/><ellipse cx="348" cy="1378" rx="3" ry="8"/><ellipse cx="196" cy="1398" rx="3" ry="8"/>
<ellipse cx="252" cy="1422" rx="3" ry="8"/><ellipse cx="272" cy="1444" rx="4" ry="10"/><ellipse cx="262" cy="1468" rx="3" ry="8"/>
<ellipse cx="190" cy="1525" rx="5" ry="12"/><ellipse cx="62" cy="1500" rx="3" ry="8"/><ellipse cx="24" cy="1545" rx="3" ry="10"/>
</g>
<!-- panel 2 red -->
<g transform="translate(860,2440) scale(0.9728,0.3488)" class="rd">
<ellipse cx="709" cy="463" rx="2.5" ry="6"/><ellipse cx="682" cy="503" rx="2.5" ry="6"/><ellipse cx="790" cy="563" rx="2.5" ry="6"/>
<ellipse cx="697" cy="578" rx="2.5" ry="6"/><ellipse cx="723" cy="588" rx="3" ry="8"/><ellipse cx="639" cy="645" rx="3" ry="7"/>
<ellipse cx="824" cy="640" rx="2.5" ry="6"/><ellipse cx="736" cy="688" rx="2.5" ry="6"/><ellipse cx="836" cy="703" rx="2.5" ry="6"/>
<ellipse cx="719" cy="735" rx="3" ry="8"/><ellipse cx="758" cy="760" rx="3" ry="10"/><ellipse cx="794" cy="740" rx="2.5" ry="6"/>
<ellipse cx="814" cy="748" rx="3" ry="8"/><ellipse cx="930" cy="756" rx="2.5" ry="6"/><ellipse cx="680" cy="802" rx="3" ry="8"/>
<ellipse cx="848" cy="785" rx="2.5" ry="6"/><ellipse cx="962" cy="792" rx="2.5" ry="6"/><ellipse cx="634" cy="916" rx="3" ry="8"/>
<ellipse cx="626" cy="950" rx="2.5" ry="6"/><ellipse cx="560" cy="988" rx="2.5" ry="6"/><ellipse cx="540" cy="970" rx="2.5" ry="6"/>
<ellipse cx="910" cy="885" rx="2.5" ry="6"/><ellipse cx="924" cy="940" rx="3" ry="8"/><ellipse cx="918" cy="1002" rx="3" ry="8"/>
<ellipse cx="634" cy="1045" rx="2.5" ry="6"/><ellipse cx="642" cy="1092" rx="3" ry="8"/><ellipse cx="658" cy="1170" rx="3" ry="8"/>
<ellipse cx="672" cy="1212" rx="2.5" ry="6"/><ellipse cx="586" cy="1245" rx="2.5" ry="6"/><ellipse cx="728" cy="1275" rx="2.5" ry="6"/>
<ellipse cx="700" cy="1316" rx="2.5" ry="6"/><ellipse cx="686" cy="1302" rx="2.5" ry="6"/><ellipse cx="662" cy="1325" rx="3" ry="8"/>
<ellipse cx="826" cy="1300" rx="3" ry="8"/><ellipse cx="848" cy="1290" rx="2.5" ry="6"/><ellipse cx="612" cy="1352" rx="2.5" ry="6"/>
<ellipse cx="688" cy="1372" rx="3" ry="8"/><ellipse cx="706" cy="1393" rx="3" ry="10"/><ellipse cx="800" cy="1388" rx="3" ry="8"/>
<ellipse cx="874" cy="1395" rx="3" ry="10"/><ellipse cx="700" cy="1420" rx="3" ry="8"/><ellipse cx="604" cy="1428" rx="2.5" ry="6"/>
<ellipse cx="766" cy="1438" rx="3" ry="8"/><ellipse cx="790" cy="1455" rx="3" ry="8"/><ellipse cx="838" cy="1355" rx="2.5" ry="6"/>
<ellipse cx="658" cy="1500" rx="2.5" ry="6"/><ellipse cx="776" cy="1488" rx="3" ry="8"/><ellipse cx="810" cy="1530" rx="2.5" ry="6"/>
<ellipse cx="828" cy="1520" rx="2.5" ry="6"/>
<ellipse cx="750" cy="820" rx="3" ry="8"/><ellipse cx="765" cy="825" rx="3" ry="8"/><ellipse cx="783" cy="835" rx="3" ry="8"/>
<ellipse cx="796" cy="822" rx="3" ry="8"/><ellipse cx="740" cy="850" rx="3" ry="8"/><ellipse cx="760" cy="860" rx="3" ry="8"/>
<ellipse cx="778" cy="870" rx="3" ry="8"/><ellipse cx="800" cy="858" rx="3" ry="8"/><ellipse cx="832" cy="858" rx="3" ry="8"/>
<ellipse cx="868" cy="860" rx="3" ry="8"/><ellipse cx="722" cy="882" rx="3" ry="8"/><ellipse cx="738" cy="900" rx="4" ry="10"/>
<ellipse cx="750" cy="895" rx="3" ry="8"/><ellipse cx="770" cy="880" rx="3" ry="8"/><ellipse cx="786" cy="905" rx="3" ry="8"/>
<ellipse cx="820" cy="885" rx="3" ry="8"/><ellipse cx="833" cy="885" rx="3" ry="8"/><ellipse cx="875" cy="890" rx="3" ry="8"/>
<ellipse cx="716" cy="915" rx="3" ry="8"/><ellipse cx="740" cy="930" rx="3" ry="8"/><ellipse cx="762" cy="925" rx="3" ry="8"/>
<ellipse cx="792" cy="940" rx="3" ry="8"/><ellipse cx="812" cy="925" rx="3" ry="8"/><ellipse cx="830" cy="940" rx="4" ry="10"/>
<ellipse cx="846" cy="945" rx="3" ry="8"/><ellipse cx="870" cy="940" rx="3" ry="8"/><ellipse cx="720" cy="965" rx="3" ry="8"/>
<ellipse cx="742" cy="960" rx="3" ry="8"/><ellipse cx="764" cy="970" rx="3" ry="8"/><ellipse cx="778" cy="958" rx="3" ry="8"/>
<ellipse cx="808" cy="965" rx="3" ry="8"/><ellipse cx="830" cy="975" rx="3" ry="8"/><ellipse cx="858" cy="965" rx="3" ry="8"/>
<ellipse cx="878" cy="978" rx="3" ry="8"/><ellipse cx="708" cy="980" rx="3" ry="8"/><ellipse cx="736" cy="990" rx="3" ry="8"/>
<ellipse cx="762" cy="1003" rx="7" ry="20"/><ellipse cx="772" cy="1003" rx="4" ry="10"/>
<ellipse cx="796" cy="995" rx="3" ry="8"/><ellipse cx="815" cy="1000" rx="3" ry="8"/><ellipse cx="840" cy="1005" rx="3" ry="8"/>
<ellipse cx="868" cy="1000" rx="4" ry="10"/><ellipse cx="890" cy="995" rx="3" ry="8"/><ellipse cx="722" cy="1030" rx="3" ry="8"/>
<ellipse cx="750" cy="1045" rx="4" ry="14"/><ellipse cx="766" cy="1050" rx="3" ry="8"/><ellipse cx="790" cy="1040" rx="3" ry="8"/>
<ellipse cx="806" cy="1035" rx="3" ry="8"/><ellipse cx="825" cy="1045" rx="3" ry="8"/><ellipse cx="852" cy="1040" rx="3" ry="8"/>
<ellipse cx="875" cy="1030" rx="3" ry="8"/><ellipse cx="700" cy="1060" rx="3" ry="8"/><ellipse cx="735" cy="1070" rx="3" ry="8"/>
<ellipse cx="754" cy="1078" rx="3" ry="8"/><ellipse cx="780" cy="1075" rx="3" ry="8"/><ellipse cx="800" cy="1090" rx="4" ry="10"/>
<ellipse cx="824" cy="1070" rx="3" ry="8"/><ellipse cx="850" cy="1078" rx="3" ry="8"/><ellipse cx="866" cy="1090" rx="3" ry="8"/>
<ellipse cx="712" cy="1100" rx="3" ry="8"/><ellipse cx="740" cy="1105" rx="3" ry="8"/><ellipse cx="770" cy="1110" rx="3" ry="8"/>
<ellipse cx="796" cy="1100" rx="3" ry="8"/><ellipse cx="822" cy="1112" rx="3" ry="8"/><ellipse cx="846" cy="1120" rx="3" ry="8"/>
<ellipse cx="735" cy="1145" rx="6" ry="16"/><ellipse cx="754" cy="1138" rx="3" ry="8"/><ellipse cx="776" cy="1140" rx="4" ry="10"/>
<ellipse cx="800" cy="1145" rx="3" ry="8"/><ellipse cx="818" cy="1150" rx="3" ry="8"/><ellipse cx="840" cy="1138" rx="3" ry="8"/>
<ellipse cx="870" cy="1145" rx="3" ry="8"/><ellipse cx="740" cy="1160" rx="3" ry="8"/><ellipse cx="766" cy="1170" rx="3" ry="8"/>
<ellipse cx="796" cy="1175" rx="3" ry="8"/><ellipse cx="826" cy="1165" rx="3" ry="8"/><ellipse cx="850" cy="1160" rx="3" ry="8"/>
<ellipse cx="780" cy="1215" rx="3" ry="8"/><ellipse cx="756" cy="1200" rx="3" ry="8"/><ellipse cx="726" cy="1180" rx="3" ry="8"/>
</g>
<!-- panel 3 -->
<g clip-path="url(#p3)">
 <ellipse cx="2113" cy="2798" rx="83" ry="80" fill="#3252b8" filter="url(#b3)"/>
 <g clip-path="url(#nuc)">
  <g filter="url(#bn)" fill="#1e2f85" opacity="0.8">
   <ellipse cx="2080" cy="2760" rx="18" ry="10"/><ellipse cx="2130" cy="2745" rx="14" ry="9"/>
   <ellipse cx="2150" cy="2780" rx="12" ry="14"/><ellipse cx="2075" cy="2820" rx="16" ry="10"/>
   <ellipse cx="2160" cy="2835" rx="18" ry="12"/><ellipse cx="2110" cy="2860" rx="14" ry="8"/>
   <ellipse cx="2100" cy="2790" rx="10" ry="8"/><ellipse cx="2185" cy="2760" rx="10" ry="16"/>
  </g>
  <g filter="url(#bn)" fill="#4a6ed8" opacity="0.8">
   <ellipse cx="2100" cy="2815" rx="22" ry="18"/><ellipse cx="2150" cy="2755" rx="14" ry="12"/>
   <ellipse cx="2060" cy="2785" rx="12" ry="16"/>
  </g>
 </g>
 <ellipse cx="1927" cy="2996" rx="36" ry="30" fill="#3252c0" filter="url(#b3)"/>
 <g transform="translate(1870,2570) scale(0.3333)">
  <g class="gd">
  <circle cx="360" cy="262" r="7"/><circle cx="468" cy="302" r="7"/><circle cx="668" cy="260" r="6"/><circle cx="666" cy="276" r="5"/>
  <circle cx="676" cy="334" r="7"/><circle cx="772" cy="372" r="8"/><circle cx="895" cy="306" r="6"/><circle cx="916" cy="384" r="6"/>
  <circle cx="952" cy="382" r="5"/><circle cx="828" cy="427" r="8"/><circle cx="958" cy="440" r="7"/><circle cx="928" cy="476" r="7"/>
  <circle cx="1046" cy="486" r="6"/><circle cx="1090" cy="488" r="7"/><circle cx="1190" cy="492" r="5"/><circle cx="1240" cy="486" r="7"/>
  <circle cx="1250" cy="418" r="5"/><circle cx="1146" cy="554" r="7"/><circle cx="1202" cy="572" r="7"/><circle cx="1186" cy="590" r="5"/>
  <circle cx="1118" cy="638" r="5"/><circle cx="1138" cy="636" r="5"/><circle cx="1112" cy="692" r="7"/><circle cx="1082" cy="730" r="6"/>
  <circle cx="1000" cy="738" r="7"/><circle cx="1066" cy="642" r="5"/><circle cx="1040" cy="688" r="5"/><circle cx="990" cy="653" r="5"/>
  <circle cx="478" cy="427" r="7"/><circle cx="476" cy="537" r="5"/><circle cx="436" cy="562" r="5"/><circle cx="236" cy="643" r="7"/>
  <circle cx="182" cy="695" r="5"/><circle cx="404" cy="779" r="7"/><circle cx="428" cy="772" r="5"/><circle cx="408" cy="805" r="6"/>
  <circle cx="372" cy="844" r="6"/><circle cx="378" cy="866" r="5"/><circle cx="190" cy="854" r="7"/><circle cx="450" cy="914" r="5"/>
  <circle cx="560" cy="877" r="6"/><circle cx="656" cy="931" r="7"/><circle cx="574" cy="968" r="7"/><circle cx="534" cy="952" r="5"/>
  <circle cx="748" cy="960" r="7"/><circle cx="806" cy="918" r="10"/><circle cx="836" cy="956" r="10"/><circle cx="880" cy="848" r="12"/>
  <circle cx="938" cy="838" r="10"/><circle cx="936" cy="874" r="9"/><circle cx="950" cy="932" r="8"/><circle cx="1048" cy="884" r="6"/>
  <circle cx="1036" cy="940" r="7"/><circle cx="918" cy="974" r="8"/><circle cx="876" cy="994" r="8"/><circle cx="752" cy="1000" r="6"/>
  <circle cx="706" cy="994" r="5"/><circle cx="742" cy="1036" r="9"/><circle cx="660" cy="1054" r="5"/><circle cx="622" cy="1046" r="4"/>
  <circle cx="576" cy="1058" r="5"/><circle cx="552" cy="1076" r="5"/><circle cx="452" cy="1012" r="6"/><circle cx="722" cy="1068" r="6"/>
  <circle cx="822" cy="1064" r="7"/><circle cx="940" cy="1020" r="8"/><circle cx="1022" cy="1006" r="6"/><circle cx="714" cy="1102" r="7"/>
  <circle cx="772" cy="1126" r="8"/><circle cx="744" cy="1152" r="5"/><circle cx="536" cy="1208" r="10"/><circle cx="610" cy="1208" r="5"/>
  <circle cx="152" cy="1183" r="6"/><circle cx="46" cy="1232" r="5"/><circle cx="1070" cy="398" r="4"/><circle cx="1030" cy="428" r="5"/>
  <circle cx="918" cy="780" r="5"/>
  </g>
  <g class="rd">
  <circle cx="534" cy="96" r="4"/><circle cx="452" cy="138" r="4"/><circle cx="496" cy="215" r="4"/><circle cx="574" cy="226" r="5"/>
  <circle cx="768" cy="198" r="4"/><circle cx="330" cy="285" r="4"/><circle cx="614" cy="330" r="4"/><circle cx="564" cy="380" r="5"/>
  <circle cx="672" cy="404" r="7"/><circle cx="838" cy="395" r="6"/><circle cx="866" cy="282" r="4"/><circle cx="908" cy="347" r="4"/>
  <circle cx="886" cy="372" r="4"/><circle cx="448" cy="452" r="5"/><circle cx="996" cy="470" r="4"/><circle cx="1046" cy="504" r="4"/>
  <circle cx="1178" cy="402" r="4"/><circle cx="1272" cy="440" r="4"/><circle cx="1012" cy="540" r="4"/><circle cx="1016" cy="568" r="5"/>
  <circle cx="1018" cy="596" r="4"/><circle cx="1040" cy="606" r="4"/><circle cx="1164" cy="596" r="6"/><circle cx="1148" cy="660" r="5"/>
  <circle cx="1000" cy="660" r="8"/><circle cx="1040" cy="652" r="5"/><circle cx="1016" cy="686" r="5"/><circle cx="1022" cy="700" r="5"/>
  <circle cx="1000" cy="748" r="4"/><circle cx="986" cy="756" r="4"/><circle cx="1038" cy="788" r="4"/><circle cx="1002" cy="808" r="7"/>
  <circle cx="984" cy="802" r="5"/><circle cx="1006" cy="840" r="4"/><circle cx="954" cy="796" r="7"/><circle cx="316" cy="570" r="4"/>
  <circle cx="292" cy="605" r="4"/><circle cx="98" cy="645" r="4"/><circle cx="316" cy="703" r="4"/><circle cx="334" cy="754" r="5"/>
  <circle cx="384" cy="835" r="4"/><circle cx="424" cy="880" r="4"/><circle cx="174" cy="914" r="4"/><circle cx="396" cy="997" r="5"/>
  <circle cx="510" cy="989" r="5"/><circle cx="464" cy="975" r="4"/><circle cx="470" cy="1046" r="5"/><circle cx="528" cy="1070" r="6"/>
  <circle cx="506" cy="1098" r="6"/><circle cx="226" cy="1106" r="5"/><circle cx="252" cy="1025" r="4"/><circle cx="696" cy="1116" r="5"/>
  <circle cx="728" cy="1170" r="5"/><circle cx="768" cy="1106" r="4"/><circle cx="790" cy="1062" r="4"/><circle cx="872" cy="972" r="4"/>
  <circle cx="912" cy="1027" r="4"/><circle cx="1006" cy="1038" r="4"/><circle cx="1012" cy="1072" r="7"/><circle cx="878" cy="1138" r="4"/>
  <circle cx="828" cy="1210" r="4"/><circle cx="808" cy="1243" r="4"/><circle cx="888" cy="1204" r="4"/><circle cx="384" cy="1182" r="4"/>
  </g>
  <g class="pk">
  <circle cx="655" cy="472" r="4"/><circle cx="694" cy="470" r="4"/><circle cx="740" cy="515" r="4"/><circle cx="722" cy="486" r="3"/>
  <circle cx="652" cy="500" r="4"/><circle cx="690" cy="498" r="3"/><circle cx="600" cy="540" r="4"/><circle cx="570" cy="540" r="3"/>
  <circle cx="592" cy="560" r="4"/><circle cx="620" cy="553" r="4"/><circle cx="640" cy="550" r="4"/><circle cx="576" cy="580" r="3"/>
  <circle cx="602" cy="602" r="4"/><circle cx="636" cy="580" r="4"/><circle cx="710" cy="590" r="4"/><circle cx="760" cy="548" r="3"/>
  <circle cx="800" cy="512" r="3"/><circle cx="836" cy="560" r="4"/><circle cx="862" cy="536" r="4"/><circle cx="890" cy="538" r="3"/>
  <circle cx="888" cy="594" r="5"/><circle cx="850" cy="606" r="3"/><circle cx="822" cy="614" r="4"/><circle cx="760" cy="624" r="3"/>
  <circle cx="720" cy="630" r="4"/><circle cx="676" cy="660" r="7"/><circle cx="700" cy="650" r="6"/><circle cx="640" cy="640" r="3"/>
  <circle cx="560" cy="612" r="3"/><circle cx="530" cy="640" r="3"/><circle cx="500" cy="720" r="4"/><circle cx="544" cy="700" r="3"/>
  <circle cx="614" cy="686" r="4"/><circle cx="660" cy="712" r="3"/><circle cx="700" cy="708" r="5"/><circle cx="750" cy="686" r="3"/>
  <circle cx="790" cy="700" r="3"/><circle cx="840" cy="690" r="3"/><circle cx="860" cy="720" r="3"/><circle cx="900" cy="680" r="3"/>
  <circle cx="940" cy="640" r="4"/><circle cx="960" cy="620" r="4"/><circle cx="930" cy="720" r="3"/><circle cx="880" cy="760" r="4"/>
  <circle cx="800" cy="752" r="5"/><circle cx="770" cy="770" r="3"/><circle cx="720" cy="800" r="4"/><circle cx="660" cy="800" r="6"/>
  <circle cx="620" cy="812" r="4"/><circle cx="600" cy="830" r="4"/><circle cx="640" cy="830" r="3"/><circle cx="850" cy="830" r="3"/>
  <circle cx="660" cy="860" r="3"/><circle cx="580" cy="790" r="3"/><circle cx="770" cy="830" r="3"/><circle cx="806" cy="860" r="3"/>
  <circle cx="628" cy="740" r="4"/><circle cx="724" cy="806" r="4"/>
  </g>
 </g>
</g>
</svg>
</body></html>
